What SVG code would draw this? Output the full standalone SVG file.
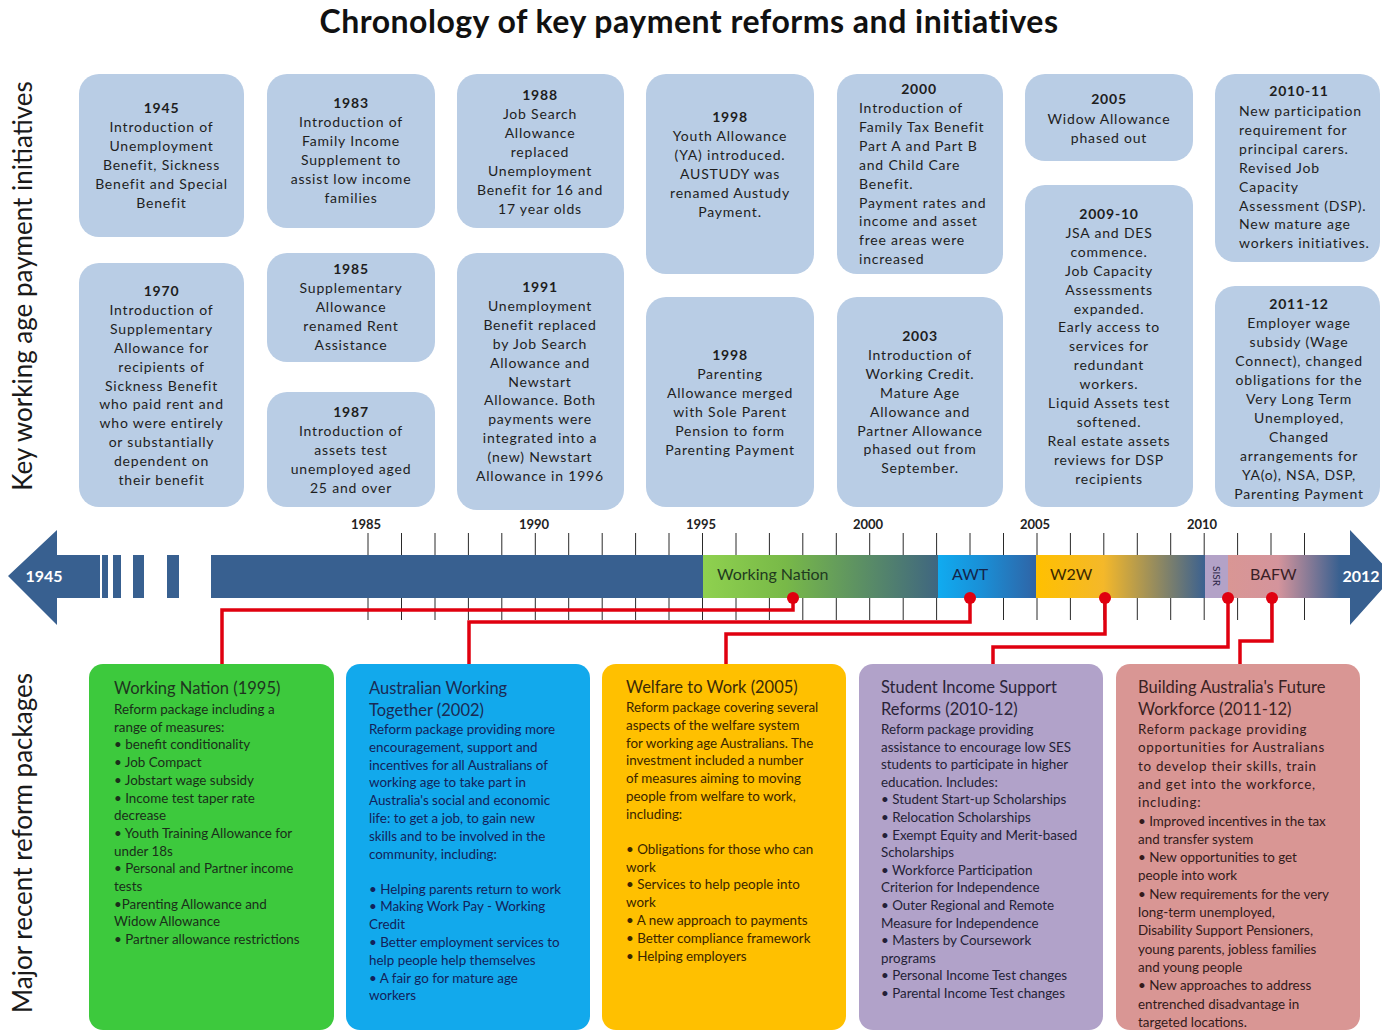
<svg xmlns="http://www.w3.org/2000/svg" width="1382" height="1030" viewBox="0 0 1382 1030">
<style>
text{font-family:Lato,"Liberation Sans",sans-serif}
.title{font-size:32px;font-weight:700;fill:#111;text-anchor:middle;letter-spacing:0.5px}
.side{font-size:26px;fill:#1a1a1a;text-anchor:middle}
.tb{fill:#b9cde5}
.tt{font-size:14px;fill:#1e1e1e;text-anchor:middle;letter-spacing:0.8px}
.tl{font-size:14px;fill:#1e1e1e;letter-spacing:0.8px}
.yr{font-weight:700}
.tick{stroke:#2a2a2a;stroke-width:1}
.ylab{font-size:13px;font-weight:700;fill:#222;text-anchor:middle}
.seg{font-size:16px}
.wt{font-size:16px;font-weight:700;fill:#fff;text-anchor:middle}
.red{fill:none;stroke:#e0000f;stroke-width:3.5;stroke-linejoin:miter}
.dot{fill:#e0000f}
.bt{font-size:16.5px}
.bb{font-size:13.4px}
</style>
<defs>
<linearGradient id="gWN" x1="0" x2="1" y1="0" y2="0"><stop offset="0" stop-color="#8fd14f"/><stop offset="0.35" stop-color="#78b948"/><stop offset="1" stop-color="#3f6680"/></linearGradient>
<linearGradient id="gAWT" x1="0" x2="1" y1="0" y2="0"><stop offset="0" stop-color="#10abf0"/><stop offset="0.45" stop-color="#1a8fd6"/><stop offset="1" stop-color="#2f64a6"/></linearGradient>
<linearGradient id="gW2W" x1="0" x2="1" y1="0" y2="0"><stop offset="0" stop-color="#ffc000"/><stop offset="0.4" stop-color="#f4b82a"/><stop offset="1" stop-color="#3b6190"/></linearGradient>
<linearGradient id="gBAFW" x1="0" x2="1" y1="0" y2="0"><stop offset="0" stop-color="#d99694"/><stop offset="0.45" stop-color="#d4949c"/><stop offset="1" stop-color="#386090"/></linearGradient>
</defs>
<rect width="1382" height="1030" fill="#fff"/>
<text class="title" x="689" y="33">Chronology of key payment reforms and initiatives</text>
<text class="side" transform="translate(32,286) rotate(-90)">Key working age payment initiatives</text>
<text class="side" transform="translate(32,843) rotate(-90)">Major recent reform packages</text>

<g id="n1945"><rect class="tb" x="79" y="74" width="165" height="163" rx="20"/>
<text class="tt" x="161.5" y="113"><tspan class="yr">1945</tspan><tspan x="161.5" dy="19">Introduction of</tspan><tspan x="161.5" dy="19">Unemployment</tspan><tspan x="161.5" dy="19">Benefit, Sickness</tspan><tspan x="161.5" dy="19">Benefit and Special</tspan><tspan x="161.5" dy="19">Benefit</tspan></text></g>
<g id="n1970"><rect class="tb" x="79" y="263" width="165" height="244" rx="20"/>
<text class="tt" x="161.5" y="296"><tspan class="yr">1970</tspan><tspan x="161.5" dy="18.9">Introduction of</tspan><tspan x="161.5" dy="18.9">Supplementary</tspan><tspan x="161.5" dy="18.9">Allowance for</tspan><tspan x="161.5" dy="18.9">recipients of</tspan><tspan x="161.5" dy="18.9">Sickness Benefit</tspan><tspan x="161.5" dy="18.9">who paid rent and</tspan><tspan x="161.5" dy="18.9">who were entirely</tspan><tspan x="161.5" dy="18.9">or substantially</tspan><tspan x="161.5" dy="18.9">dependent on</tspan><tspan x="161.5" dy="18.9">their benefit</tspan></text></g>
<g id="n1983"><rect class="tb" x="267" y="74" width="168" height="154" rx="20"/>
<text class="tt" x="351" y="108"><tspan class="yr">1983</tspan><tspan x="351" dy="19">Introduction of</tspan><tspan x="351" dy="19">Family Income</tspan><tspan x="351" dy="19">Supplement to</tspan><tspan x="351" dy="19">assist low income</tspan><tspan x="351" dy="19">families</tspan></text></g>
<g id="n1985"><rect class="tb" x="267" y="253" width="168" height="109" rx="20"/>
<text class="tt" x="351" y="274"><tspan class="yr">1985</tspan><tspan x="351" dy="19">Supplementary</tspan><tspan x="351" dy="19">Allowance</tspan><tspan x="351" dy="19">renamed Rent</tspan><tspan x="351" dy="19">Assistance</tspan></text></g>
<g id="n1987"><rect class="tb" x="267" y="392" width="168" height="115" rx="20"/>
<text class="tt" x="351" y="417"><tspan class="yr">1987</tspan><tspan x="351" dy="19">Introduction of</tspan><tspan x="351" dy="19">assets test</tspan><tspan x="351" dy="19">unemployed aged</tspan><tspan x="351" dy="19">25 and over</tspan></text></g>
<g id="n1988"><rect class="tb" x="457" y="74" width="167" height="154" rx="20"/>
<text class="tt" x="540" y="100"><tspan class="yr">1988</tspan><tspan x="540" dy="19">Job Search</tspan><tspan x="540" dy="19">Allowance</tspan><tspan x="540" dy="19">replaced</tspan><tspan x="540" dy="19">Unemployment</tspan><tspan x="540" dy="19">Benefit for 16 and</tspan><tspan x="540" dy="19">17 year olds</tspan></text></g>
<g id="n1991"><rect class="tb" x="457" y="253" width="167" height="257" rx="20"/>
<text class="tt" x="540" y="292"><tspan class="yr">1991</tspan><tspan x="540" dy="18.9">Unemployment</tspan><tspan x="540" dy="18.9">Benefit replaced</tspan><tspan x="540" dy="18.9">by Job Search</tspan><tspan x="540" dy="18.9">Allowance and</tspan><tspan x="540" dy="18.9">Newstart</tspan><tspan x="540" dy="18.9">Allowance.  Both</tspan><tspan x="540" dy="18.9">payments were</tspan><tspan x="540" dy="18.9">integrated into a</tspan><tspan x="540" dy="18.9">(new) Newstart</tspan><tspan x="540" dy="18.9">Allowance in 1996</tspan></text></g>
<g id="n1998a"><rect class="tb" x="646" y="74" width="168" height="200" rx="20"/>
<text class="tt" x="730" y="122"><tspan class="yr">1998</tspan><tspan x="730" dy="19">Youth Allowance</tspan><tspan x="730" dy="19">(YA) introduced.</tspan><tspan x="730" dy="19">AUSTUDY was</tspan><tspan x="730" dy="19">renamed Austudy</tspan><tspan x="730" dy="19">Payment.</tspan></text></g>
<g id="n1998b"><rect class="tb" x="646" y="297" width="168" height="210" rx="20"/>
<text class="tt" x="730" y="360"><tspan class="yr">1998</tspan><tspan x="730" dy="19">Parenting</tspan><tspan x="730" dy="19">Allowance merged</tspan><tspan x="730" dy="19">with Sole Parent</tspan><tspan x="730" dy="19">Pension to form</tspan><tspan x="730" dy="19">Parenting Payment</tspan></text></g>
<g id="n2000"><rect class="tb" x="837" y="74" width="166" height="200" rx="20"/>
<text class="tt yr" x="919" y="94">2000</text>
<text class="tl" x="859" y="113"><tspan>Introduction of</tspan><tspan x="859" dy="18.9">Family Tax Benefit</tspan><tspan x="859" dy="18.9">Part A and Part B</tspan><tspan x="859" dy="18.9">and Child Care</tspan><tspan x="859" dy="18.9">Benefit.</tspan><tspan x="859" dy="18.9">Payment rates and</tspan><tspan x="859" dy="18.9">income and asset</tspan><tspan x="859" dy="18.9">free areas were</tspan><tspan x="859" dy="18.9">increased</tspan></text></g>
<g id="n2003"><rect class="tb" x="837" y="297" width="166" height="210" rx="20"/>
<text class="tt" x="920" y="341"><tspan class="yr">2003</tspan><tspan x="920" dy="18.9">Introduction of</tspan><tspan x="920" dy="18.9">Working Credit.</tspan><tspan x="920" dy="18.9">Mature Age</tspan><tspan x="920" dy="18.9">Allowance and</tspan><tspan x="920" dy="18.9">Partner Allowance</tspan><tspan x="920" dy="18.9">phased out from</tspan><tspan x="920" dy="18.9">September.</tspan></text></g>
<g id="n2005"><rect class="tb" x="1025" y="74" width="168" height="87" rx="20"/>
<text class="tt" x="1109" y="104"><tspan class="yr">2005</tspan><tspan x="1109" dy="19.5">Widow Allowance</tspan><tspan x="1109" dy="19.5">phased out</tspan></text></g>
<g id="n2009"><rect class="tb" x="1025" y="185" width="168" height="322" rx="20"/>
<text class="tt" x="1109" y="219"><tspan class="yr">2009-10</tspan><tspan x="1109" dy="18.9">JSA and DES</tspan><tspan x="1109" dy="18.9">commence.</tspan><tspan x="1109" dy="18.9">Job Capacity</tspan><tspan x="1109" dy="18.9">Assessments</tspan><tspan x="1109" dy="18.9">expanded.</tspan><tspan x="1109" dy="18.9">Early access to</tspan><tspan x="1109" dy="18.9">services for</tspan><tspan x="1109" dy="18.9">redundant</tspan><tspan x="1109" dy="18.9">workers.</tspan><tspan x="1109" dy="18.9">Liquid Assets test</tspan><tspan x="1109" dy="18.9">softened.</tspan><tspan x="1109" dy="18.9">Real estate assets</tspan><tspan x="1109" dy="18.9">reviews for DSP</tspan><tspan x="1109" dy="18.9">recipients</tspan></text></g>
<g id="n2010"><rect class="tb" x="1215" y="74" width="165" height="188" rx="20"/>
<text class="tt yr" x="1299" y="96">2010-11</text>
<text class="tl" x="1239" y="116"><tspan>New participation</tspan><tspan x="1239" dy="18.9">requirement for</tspan><tspan x="1239" dy="18.9">principal carers.</tspan><tspan x="1239" dy="18.9">Revised Job</tspan><tspan x="1239" dy="18.9">Capacity</tspan><tspan x="1239" dy="18.9">Assessment (DSP).</tspan><tspan x="1239" dy="18.9">New mature age</tspan><tspan x="1239" dy="18.9">workers initiatives.</tspan></text></g>
<g id="n2011"><rect class="tb" x="1215" y="286" width="165" height="221" rx="20"/>
<text class="tt" x="1299" y="309"><tspan class="yr">2011-12</tspan><tspan x="1299" dy="19">Employer wage</tspan><tspan x="1299" dy="19">subsidy (Wage</tspan><tspan x="1299" dy="19">Connect), changed</tspan><tspan x="1299" dy="19">obligations for the</tspan><tspan x="1299" dy="19">Very Long Term</tspan><tspan x="1299" dy="19">Unemployed,</tspan><tspan x="1299" dy="19">Changed</tspan><tspan x="1299" dy="19">arrangements for</tspan><tspan x="1299" dy="19">YA(o), NSA, DSP,</tspan><tspan x="1299" dy="19">Parenting Payment</tspan></text></g>

<g id="timeline">
<g class="tick">
<path d="M368,533V555M401.5,533V555M435,533V555M468.4,533V555M501.8,533V555M535.3,533V555M568.7,533V555M602.2,533V555M635.6,533V555M669,533V555M702.5,533V555M736,533V555M769.4,533V555M802.8,533V555M836.3,533V555M869.7,533V555M903.2,533V555M936.6,533V555M970,533V555M1003.5,533V555M1037,533V555M1070.4,533V555M1103.8,533V555M1137.3,533V555M1170.7,533V555M1204.2,533V555M1237.6,533V555M1271,533V555M1304.5,533V555"/>
<path d="M368,598V620M401.5,598V620M435,598V620M468.4,598V620M501.8,598V620M535.3,598V620M568.7,598V620M602.2,598V620M635.6,598V620M669,598V620M702.5,598V620M736,598V620M769.4,598V620M802.8,598V620M836.3,598V620M869.7,598V620M903.2,598V620M936.6,598V620M970,598V620M1003.5,598V620M1037,598V620M1070.4,598V620M1103.8,598V620M1137.3,598V620M1170.7,598V620M1204.2,598V620M1237.6,598V620M1271,598V620M1304.5,598V620"/>
</g>
<text class="ylab" x="366" y="529">1985</text>
<text class="ylab" x="534" y="529">1990</text>
<text class="ylab" x="701" y="529">1995</text>
<text class="ylab" x="868" y="529">2000</text>
<text class="ylab" x="1035" y="529">2005</text>
<text class="ylab" x="1202" y="529">2010</text>
<polygon points="8,576 57,530 57,555 100,555 100,598 57,598 57,625" fill="#386090"/>
<rect x="102" y="555" width="6" height="43" fill="#386090"/>
<rect x="113" y="555" width="8" height="43" fill="#386090"/>
<rect x="133" y="555" width="11" height="43" fill="#386090"/>
<rect x="167" y="555" width="12" height="43" fill="#386090"/>
<polygon points="211,555 1350,555 1350,530 1394,576 1350,625 1350,598 211,598" fill="#386090"/>
<rect x="703" y="555" width="235" height="43" fill="url(#gWN)"/>
<rect x="938" y="555" width="98" height="43" fill="url(#gAWT)"/>
<rect x="1036" y="555" width="169" height="43" fill="url(#gW2W)"/>
<rect x="1205" y="555" width="23" height="43" fill="#b3a2c7"/>
<rect x="1228" y="555" width="112" height="43" fill="url(#gBAFW)"/>
<text class="seg" x="717" y="580" fill="#1f3a1f">Working Nation</text>
<text class="seg" x="952" y="580" fill="#14254a">AWT</text>
<text class="seg" x="1050" y="580" fill="#3a2800">W2W</text>
<text x="1216.5" y="576" font-size="10" fill="#2a2545" text-anchor="middle" dominant-baseline="central" transform="rotate(90 1216.5 576)">SISR</text>
<text class="seg" x="1250" y="580" fill="#3a1f26">BAFW</text>
<text class="wt" x="44" y="582">1945</text>
<text class="wt" x="1361" y="582">2012</text>
</g>

<g id="connectors">
<path class="red" d="M793,598V610H222V664"/>
<path class="red" d="M970,598V622H469V664"/>
<path class="red" d="M1105,598V634H726V664"/>
<path class="red" d="M1228,598V647H993V664"/>
<path class="red" d="M1272,598V641H1240V664"/>
<circle class="dot" cx="793" cy="598" r="6"/>
<circle class="dot" cx="970" cy="598" r="6"/>
<circle class="dot" cx="1105" cy="598" r="6"/>
<circle class="dot" cx="1228" cy="598" r="6"/>
<circle class="dot" cx="1272" cy="598" r="6"/>
</g>

<g id="wn">
<rect x="89" y="664" width="245" height="366" rx="14" fill="#3dc93d"/>
<text class="bt" x="114" y="694" fill="#1f351f">Working Nation (1995)</text>
<text class="bb" x="114" y="714" fill="#1a2e1a"><tspan>Reform package including a</tspan><tspan x="114" dy="17.7">range of measures:</tspan><tspan x="114" dy="17.7">• benefit conditionality</tspan><tspan x="114" dy="17.7">• Job Compact</tspan><tspan x="114" dy="17.7">• Jobstart wage subsidy</tspan><tspan x="114" dy="17.7">• Income test taper rate</tspan><tspan x="114" dy="17.7">decrease</tspan><tspan x="114" dy="17.7">• Youth Training Allowance  for</tspan><tspan x="114" dy="17.7">under 18s</tspan><tspan x="114" dy="17.7">• Personal and  Partner income</tspan><tspan x="114" dy="17.7">tests</tspan><tspan x="114" dy="17.7">•Parenting Allowance and</tspan><tspan x="114" dy="17.7">Widow Allowance</tspan><tspan x="114" dy="17.7">• Partner allowance  restrictions</tspan></text>
</g>
<g id="awt">
<rect x="346" y="664" width="244" height="366" rx="14" fill="#12a9ec"/>
<text class="bt" x="369" y="694" fill="#1a2b55"><tspan>Australian Working</tspan><tspan x="369" dy="22">Together (2002)</tspan></text>
<text class="bb" x="369" y="734" fill="#13225a"><tspan>Reform package providing more</tspan><tspan x="369" dy="17.8">encouragement, support and</tspan><tspan x="369" dy="17.8">incentives for all Australians of</tspan><tspan x="369" dy="17.8">working age to take part in</tspan><tspan x="369" dy="17.8">Australia's social and economic</tspan><tspan x="369" dy="17.8">life: to get a job, to gain new</tspan><tspan x="369" dy="17.8">skills and to be involved in the</tspan><tspan x="369" dy="17.8">community, including:</tspan><tspan x="369" dy="35">• Helping  parents return to work</tspan><tspan x="369" dy="17.8">• Making Work Pay - Working</tspan><tspan x="369" dy="17.8">Credit</tspan><tspan x="369" dy="17.8">• Better employment services to</tspan><tspan x="369" dy="17.8">help people  help themselves</tspan><tspan x="369" dy="17.8">• A fair go for mature age</tspan><tspan x="369" dy="17.8">workers</tspan></text>
</g>
<g id="w2w">
<rect x="602" y="664" width="244" height="366" rx="14" fill="#ffc000"/>
<text class="bt" x="626" y="693" fill="#3a2a08">Welfare to Work (2005)</text>
<text class="bb" x="626" y="712" fill="#3a2500" font-size="13.8"><tspan>Reform package covering several</tspan><tspan x="626" dy="17.8">aspects of the welfare system</tspan><tspan x="626" dy="17.8">for working age Australians.  The</tspan><tspan x="626" dy="17.8">investment included  a number</tspan><tspan x="626" dy="17.8">of measures aiming to moving</tspan><tspan x="626" dy="17.8">people from welfare to work,</tspan><tspan x="626" dy="17.8">including:</tspan><tspan x="626" dy="35">• Obligations  for those  who can</tspan><tspan x="626" dy="17.8">work</tspan><tspan x="626" dy="17.8">• Services to help people  into</tspan><tspan x="626" dy="17.8">work</tspan><tspan x="626" dy="17.8">• A new approach to payments</tspan><tspan x="626" dy="17.8">• Better compliance  framework</tspan><tspan x="626" dy="17.8">• Helping employers</tspan></text>
</g>
<g id="sisr">
<rect x="859" y="664" width="244" height="366" rx="14" fill="#b1a2c9"/>
<text class="bt" x="881" y="693" fill="#2a2438"><tspan>Student Income Support</tspan><tspan x="881" dy="22">Reforms (2010-12)</tspan></text>
<text class="bb" x="881" y="734" fill="#241f36"><tspan>Reform package providing</tspan><tspan x="881" dy="17.6">assistance to encourage low SES</tspan><tspan x="881" dy="17.6">students to participate in higher</tspan><tspan x="881" dy="17.6">education. Includes:</tspan><tspan x="881" dy="17.6">• Student Start-up Scholarships</tspan><tspan x="881" dy="17.6">• Relocation Scholarships</tspan><tspan x="881" dy="17.6">• Exempt Equity and  Merit-based</tspan><tspan x="881" dy="17.6">Scholarships</tspan><tspan x="881" dy="17.6">• Workforce Participation</tspan><tspan x="881" dy="17.6">Criterion for Independence</tspan><tspan x="881" dy="17.6">• Outer Regional and  Remote</tspan><tspan x="881" dy="17.6">Measure for Independence</tspan><tspan x="881" dy="17.6">• Masters by Coursework</tspan><tspan x="881" dy="17.6">programs</tspan><tspan x="881" dy="17.6">• Personal Income  Test changes</tspan><tspan x="881" dy="17.6">• Parental Income  Test changes</tspan></text>
</g>
<g id="bafw">
<rect x="1116" y="664" width="244" height="366" rx="14" fill="#d99694"/>
<text class="bt" x="1138" y="693" fill="#3a2222" font-size="16.8"><tspan>Building Australia's Future</tspan><tspan x="1138" dy="22">Workforce (2011-12)</tspan></text>
<text class="bb" x="1138" y="734" fill="#331a1a" font-size="13.8"><tspan letter-spacing="0.7">Reform package providing</tspan><tspan x="1138" dy="18.3" letter-spacing="0.7">opportunities for Australians</tspan><tspan x="1138" dy="18.3" letter-spacing="0.7">to develop their skills, train</tspan><tspan x="1138" dy="18.3" letter-spacing="0.7">and get into the workforce,</tspan><tspan x="1138" dy="18.3" letter-spacing="0.7">including:</tspan><tspan x="1138" dy="18.3">• Improved incentives  in the tax</tspan><tspan x="1138" dy="18.3">and transfer system</tspan><tspan x="1138" dy="18.3">• New opportunities  to get</tspan><tspan x="1138" dy="18.3">people into work</tspan><tspan x="1138" dy="18.3">• New requirements for the very</tspan><tspan x="1138" dy="18.3">long-term unemployed,</tspan><tspan x="1138" dy="18.3">Disability Support Pensioners,</tspan><tspan x="1138" dy="18.3">young parents, jobless families</tspan><tspan x="1138" dy="18.3">and young people</tspan><tspan x="1138" dy="18.3">• New approaches to address</tspan><tspan x="1138" dy="18.3">entrenched disadvantage in</tspan><tspan x="1138" dy="18.3">targeted locations.</tspan></text>
</g>
</svg>
